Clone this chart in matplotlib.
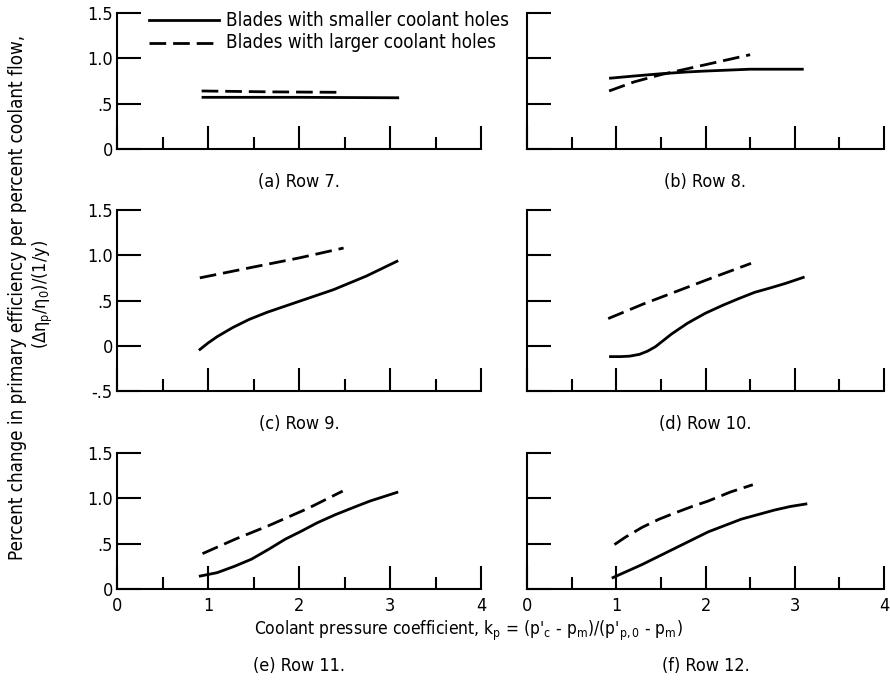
import matplotlib
matplotlib.use("Agg")
import matplotlib.pyplot as plt

plt.rcParams['font.family'] = ['DejaVu Sans']
plt.rcParams['font.stretch'] = 'condensed'
plt.rcParams['mathtext.fontset'] = 'custom'
plt.rcParams['mathtext.rm'] = 'DejaVu Sans:stretch=condensed'
plt.rcParams['mathtext.it'] = 'DejaVu Sans:stretch=condensed'

row7_small_x = [0.93, 2.0, 3.1]
row7_small_y = [0.57, 0.57, 0.565]
row7_large_x = [0.93, 1.7, 2.48]
row7_large_y = [0.64, 0.63, 0.625]

row8_small_x = [0.92, 1.2, 1.5, 1.8, 2.0, 2.5, 3.1]
row8_small_y = [0.78, 0.805, 0.83, 0.85, 0.86, 0.88, 0.88]
row8_large_x = [0.92, 1.2, 1.5, 2.0, 2.5]
row8_large_y = [0.64, 0.74, 0.82, 0.93, 1.04]

row9_small_x = [0.90, 1.0, 1.1, 1.27, 1.45, 1.65, 2.0, 2.38, 2.74, 3.09]
row9_small_y = [-0.05, 0.03, 0.10, 0.20, 0.29, 0.37, 0.49, 0.62, 0.77, 0.94]
row9_large_x = [0.91, 1.5, 2.0, 2.49]
row9_large_y = [0.75, 0.87, 0.97, 1.08]

row10_small_x = [0.92, 1.05, 1.15, 1.26, 1.35, 1.44, 1.53, 1.62, 1.8, 2.0, 2.2, 2.37, 2.55, 2.73, 2.9, 3.11]
row10_small_y = [-0.12, -0.12, -0.115, -0.095, -0.06, -0.01, 0.06, 0.13, 0.25, 0.36, 0.45, 0.52, 0.59, 0.64, 0.69, 0.76]
row10_large_x = [0.91, 1.3, 1.7, 2.1, 2.51]
row10_large_y = [0.30, 0.46, 0.61, 0.76, 0.91]

row11_small_x = [0.9, 1.1, 1.29, 1.48, 1.67, 1.85, 2.03, 2.2, 2.4, 2.6, 2.78, 3.09]
row11_small_y = [0.14, 0.18, 0.25, 0.33, 0.44, 0.55, 0.64, 0.73, 0.82, 0.90, 0.97, 1.07]
row11_large_x = [0.94, 1.3, 1.67, 2.1, 2.48]
row11_large_y = [0.39, 0.55, 0.70, 0.89, 1.08]

row12_small_x = [0.95, 1.29, 1.66, 2.03, 2.4, 2.77, 2.95, 3.14]
row12_small_y = [0.12, 0.27, 0.45, 0.63, 0.77, 0.87, 0.91, 0.94]
row12_large_x = [0.98, 1.1, 1.29, 1.48, 1.66, 1.85, 2.03, 2.28, 2.53]
row12_large_y = [0.49, 0.57, 0.68, 0.77, 0.84, 0.91, 0.97, 1.07, 1.15]

panels = [
    ("(a) Row 7.", row7_small_x, row7_small_y, row7_large_x, row7_large_y),
    ("(b) Row 8.", row8_small_x, row8_small_y, row8_large_x, row8_large_y),
    ("(c) Row 9.", row9_small_x, row9_small_y, row9_large_x, row9_large_y),
    ("(d) Row 10.", row10_small_x, row10_small_y, row10_large_x, row10_large_y),
    ("(e) Row 11.", row11_small_x, row11_small_y, row11_large_x, row11_large_y),
    ("(f) Row 12.", row12_small_x, row12_small_y, row12_large_x, row12_large_y),
]

x_ticks = [0, 1, 2, 3, 4]
x_minor = [0.5, 1.5, 2.5, 3.5]
legend_labels = ["Blades with smaller coolant holes", "Blades with larger coolant holes"]

W, H = 890, 684
fig = plt.figure(figsize=(W / 100, H / 100), dpi=100)

# axes boxes in pixels
col_left = [117, 527]
col_width = [364, 357]
row_geom = [(149, 13, 0.0), (391, 210, -0.5), (589, 453, 0.0)]  # (bottom px, top px, ymin)

for i, (title, sx, sy, lx, ly) in enumerate(panels):
    r, c = divmod(i, 2)
    bot, top, ymin = row_geom[r]
    ax = fig.add_axes([col_left[c] / W, (H - bot) / H, col_width[c] / W, (bot - top) / H])
    ax.plot(sx, sy, color='black', lw=2.0, solid_capstyle='butt', solid_joinstyle='round')
    ax.plot(lx, ly, color='black', lw=2.0, dashes=(6, 2.5))
    ax.set_xlim(0, 4)
    ax.set_ylim(ymin, 1.5)
    for s in ['top', 'right']:
        ax.spines[s].set_visible(False)
    for s in ['left', 'bottom']:
        ax.spines[s].set_linewidth(1.5)
    ax.set_xticks(x_ticks)
    ax.set_xticks(x_minor, minor=True)
    ax.tick_params(axis='x', which='major', direction='in', length=16.5, width=1.5, pad=6, labelsize=13)
    ax.tick_params(axis='x', which='minor', direction='in', length=8.5, width=1.5)
    if ymin < 0:
        yt = [-0.5, 0, 0.5, 1.0, 1.5]
        ytl = ['-.5', '0', '.5', '1.0', '1.5']
    else:
        yt = [0, 0.5, 1.0, 1.5]
        ytl = ['0', '.5', '1.0', '1.5']
    ax.set_yticks(yt)
    ax.set_yticklabels(ytl)
    ax.tick_params(axis='y', direction='in', length=17, width=1.5, pad=3, labelsize=13)
    if c == 1:
        ax.tick_params(axis='y', labelleft=False)
    if r < 2:
        ax.tick_params(axis='x', labelbottom=False)
    ax.patch.set_visible(False)
    cx = (col_left[c] + col_width[c] / 2) / W
    ty = 182 if r == 0 else (424 if r == 1 else 666)
    fig.text(cx, (H - ty) / H, title, ha='center', va='center', fontsize=13)

    if i == 0:
        ax.plot([0.35, 1.12], [1.42, 1.42], color='black', lw=2.0)
        ax.plot([0.35, 1.12], [1.17, 1.17], color='black', lw=2.0, dashes=(6, 2.5))
        ax.text(1.2, 1.42, legend_labels[0], va='center', ha='left', fontsize=13.5)
        ax.text(1.2, 1.17, legend_labels[1], va='center', ha='left', fontsize=13.5)

fig.text(18 / W, (H - 297) / H,
         "Percent change in primary efficiency per percent coolant flow,",
         rotation=90, ha='center', va='center', fontsize=13.5)
fig.text(43 / W, (H - 294) / H,
         r"$(\Delta\eta_p/\eta_0)/(1/y)$",
         rotation=90, ha='center', va='center', fontsize=13)
fig.text(468 / W, (H - 631) / H,
         r"Coolant pressure coefficient, k$_p$ = (p'$_c$ - p$_m$)/(p'$_{p,0}$ - p$_m$)",
         ha='center', va='center', fontsize=12.5)

fig.savefig("out.png", dpi=100)
